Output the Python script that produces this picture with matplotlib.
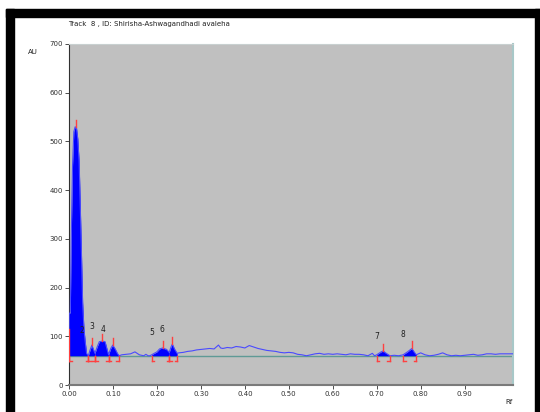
import numpy as np
import matplotlib.pyplot as plt
from matplotlib.patches import Rectangle

# Densitograma (Rf, AU)
rf = [0.000, 0.0005, 0.003, 0.005, 0.008, 0.011, 0.014, 0.017, 0.020, 0.023,
      0.027, 0.031, 0.034, 0.037, 0.040, 0.044, 0.048, 0.052, 0.056, 0.059,
      0.064, 0.069, 0.076, 0.082, 0.087, 0.090, 0.095, 0.0995, 0.105, 0.110,
      0.114, 0.120, 0.130, 0.140, 0.150, 0.155, 0.160, 0.170, 0.175, 0.180,
      0.184, 0.188, 0.200, 0.206, 0.213, 0.222, 0.228, 0.232, 0.235, 0.240,
      0.246, 0.250, 0.260, 0.270, 0.280, 0.290, 0.300, 0.310, 0.320, 0.330,
      0.340, 0.345, 0.350, 0.360, 0.370, 0.380, 0.390, 0.400, 0.410, 0.420,
      0.430, 0.440, 0.450, 0.460, 0.470, 0.480, 0.490, 0.500, 0.510, 0.520,
      0.530, 0.540, 0.550, 0.560, 0.570, 0.580, 0.590, 0.600, 0.610, 0.620,
      0.630, 0.640, 0.650, 0.660, 0.670, 0.680, 0.690, 0.695, 0.700, 0.710,
      0.715, 0.720, 0.730, 0.740, 0.750, 0.760, 0.770, 0.780, 0.785, 0.790,
      0.800, 0.810, 0.820, 0.830, 0.840, 0.850, 0.860, 0.870, 0.880, 0.890,
      0.900, 0.910, 0.920, 0.930, 0.940, 0.950, 0.960, 0.970, 0.980, 0.990,
      1.000, 1.010]
au = [60, 145, 150, 298, 450, 520, 530, 528, 505, 460,
      320, 170, 115, 88, 65, 60, 72, 82, 72, 65,
      78, 89, 90, 89, 72, 62, 75, 82, 74, 65,
      60, 62, 63, 64, 68, 65, 62, 60, 63, 60,
      60, 62, 68, 74, 76, 73, 67, 78, 84, 74,
      65, 66, 67, 69, 70, 72, 73, 74, 75, 74,
      82, 76, 75, 77, 76, 79, 78, 76, 81, 78,
      75, 73, 71, 70, 69, 67, 66, 67, 66, 63,
      62, 60, 62, 64, 65, 63, 64, 63, 64, 63,
      62, 64, 63, 63, 62, 60, 65, 60, 62, 68,
      70, 66, 60, 61, 60, 62, 68, 75, 68, 62,
      66, 62, 60, 61, 63, 66, 62, 60, 61, 60,
      61, 62, 63, 61, 62, 64, 64, 63, 64, 64,
      64, 64]

linea_base = 60
# ventanas de integración de picos (inicio, fin)
ventanas = [(0.000, 0.044), (0.044, 0.059), (0.059, 0.090), (0.090, 0.114),
            (0.188, 0.228), (0.228, 0.246), (0.700, 0.730), (0.760, 0.790)]
# máximos de pico (Rf, altura)
maximos = [(0.015, 530), (0.052, 82), (0.076, 90), (0.0995, 82),
           (0.213, 76), (0.235, 84), (0.715, 70), (0.780, 75)]
# etiquetas de pico
etiquetas = ['2', '3', '4', '5', '6', '7', '8']
pos_etiquetas = [(0.029, 102), (0.052, 110), (0.077, 104), (0.189, 98),
                 (0.212, 105), (0.700, 90), (0.760, 95)]

rf = np.array(rf)
au = np.array(au)

fig = plt.figure(figsize=(5.4, 4.12), dpi=100)
ax = fig.add_axes([69/540, 27/412, 444/540, 341/412])
ax.set_facecolor('#c0c0c0')

# línea base
ax.plot([0, 1.01], [linea_base, linea_base], color='#5f9a96', lw=1.0, zorder=2)

# relleno de picos
for a, b in ventanas:
    m = (rf >= a) & (rf <= b)
    ax.fill_between(rf[m], linea_base, au[m], color='#0000ff', lw=0, zorder=3)

ax.plot(rf, au, color='#4a4aff', lw=0.8, zorder=4)

# marcadores rojos
rojo = '#ff4040'
for a, b in ventanas:
    for x, d in [(a, 1), (b, -1)]:
        ax.plot([x, x], [linea_base, 50], color=rojo, lw=1.0, zorder=5)
        ax.plot([x, x + d*0.006], [50, 50], color=rojo, lw=1.0, zorder=5)
ax.plot([0.001, 0.001], [50, 115], color=rojo, lw=1.0, zorder=5)
for x, y in maximos:
    ax.plot([x, x], [y, y + 15], color=rojo, lw=1.0, zorder=5)

for t, (x, y) in zip(etiquetas, pos_etiquetas):
    ax.text(x, y, t, fontsize=5.5, ha='center', va='bottom', color='#202020', zorder=6)

ax.set_xlim(0, 1.01)
ax.set_ylim(0, 700)
ax.set_xticks(np.arange(0, 0.91, 0.1))
ax.set_xticklabels(['%.2f' % v for v in np.arange(0, 0.91, 0.1)])
ax.set_yticks(range(0, 701, 100))
ax.tick_params(labelsize=5, length=3, width=0.6, pad=1.5, colors='#303030')

ax.spines['left'].set_color('#303030')
ax.spines['bottom'].set_color('#7a7a7a')
ax.spines['bottom'].set_linewidth(1.5)
ax.spines['right'].set_color('#a8c8c8')
ax.spines['right'].set_linewidth(1.5)
ax.spines['top'].set_color('#c8d0d0')

fig.text(68/540, 1 - 24/412, 'Track  8 , ID: Shirisha-Ashwagandhadi avaleha',
         fontsize=5, ha='left', va='center', color='#202020')
fig.text(28/540, 1 - 52/412, 'AU', fontsize=5, ha='left', va='center', color='#202020')
fig.text(505/540, 1 - 402/412, 'Rf', fontsize=5, ha='left', va='center', color='#202020')

# marco negro
fig.patches.append(Rectangle((6/540, 0), 8/540, 1 - 9/412, transform=fig.transFigure,
                             color='black', zorder=0))
fig.patches.append(Rectangle((6/540, 1 - 17/412), 534/540, 8/412, transform=fig.transFigure,
                             color='black', zorder=0))
fig.patches.append(Rectangle((535/540, 0), 5/540, 1 - 9/412, transform=fig.transFigure,
                             color='black', zorder=0))

fig.savefig('out.png', dpi=100)
